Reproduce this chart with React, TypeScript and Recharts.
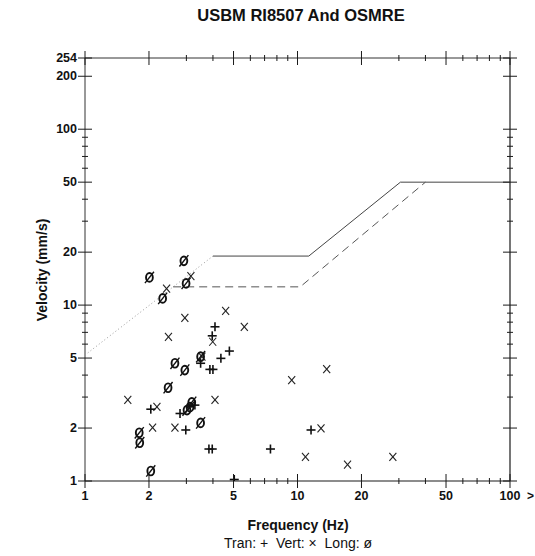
import React from "react";
import {
  ScatterChart,
  Scatter,
  XAxis,
  YAxis,
  ReferenceLine,
} from "recharts";

// ---- data ----
const tranPoints = [
  { f: 4.09, v: 7.53 },
  { f: 3.97, v: 6.69 },
  { f: 4.78, v: 5.48 },
  { f: 4.36, v: 4.98 },
  { f: 3.5, v: 4.67 },
  { f: 3.87, v: 4.31 },
  { f: 4.0, v: 4.31 },
  { f: 3.29, v: 2.7 },
  { f: 2.8, v: 2.42 },
  { f: 2.04, v: 2.56 },
  { f: 2.98, v: 1.95 },
  { f: 3.83, v: 1.52 },
  { f: 3.97, v: 1.52 },
  { f: 7.46, v: 1.52 },
  { f: 11.58, v: 1.95 },
  { f: 5.04, v: 1.02 },
];

const vertPoints = [
  { f: 3.15, v: 14.6 },
  { f: 2.42, v: 12.4 },
  { f: 4.59, v: 9.28 },
  { f: 2.95, v: 8.47 },
  { f: 5.62, v: 7.53 },
  { f: 2.47, v: 6.6 },
  { f: 3.99, v: 6.19 },
  { f: 3.55, v: 5.1 },
  { f: 1.59, v: 2.89 },
  { f: 2.18, v: 2.64 },
  { f: 4.09, v: 2.89 },
  { f: 2.08, v: 2.01 },
  { f: 2.65, v: 2.01 },
  { f: 9.39, v: 3.75 },
  { f: 13.72, v: 4.33 },
  { f: 12.9, v: 1.99 },
  { f: 10.9, v: 1.37 },
  { f: 17.2, v: 1.24 },
  { f: 28.1, v: 1.37 },
];

const longPoints = [
  { f: 2.92, v: 17.85 },
  { f: 2.01, v: 14.37 },
  { f: 2.99, v: 13.29 },
  { f: 2.32, v: 10.92 },
  { f: 3.5, v: 5.09 },
  { f: 2.65, v: 4.67 },
  { f: 2.95, v: 4.27 },
  { f: 2.46, v: 3.39 },
  { f: 3.18, v: 2.8 },
  { f: 3.12, v: 2.63 },
  { f: 3.02, v: 2.53 },
  { f: 3.5, v: 2.14 },
  { f: 1.8, v: 1.88 },
  { f: 1.81, v: 1.65 },
  { f: 2.04, v: 1.14 },
];

const diagonalLine = [
  { f: 1, v: 5.2 },
  { f: 4, v: 19 },
];
const usbmLine = [
  { f: 4, v: 19 },
  { f: 11.3, v: 19 },
  { f: 30.5, v: 50 },
  { f: 100, v: 50 },
];
const osmreLine = [
  { f: 2.6, v: 12.7 },
  { f: 10.3, v: 12.7 },
  { f: 40, v: 50 },
];

const xTicks = [1, 2, 3, 4, 5, 6, 7, 8, 9, 10, 20, 30, 40, 50, 60, 70, 80, 90, 100];
const xMajor = [1, 2, 5, 10, 20, 50, 100];
const yTicks = [1, 2, 3, 4, 5, 6, 7, 8, 9, 10, 20, 30, 40, 50, 60, 70, 80, 90, 100, 200, 254];
const yMajor = [1, 2, 5, 10, 20, 50, 100, 200, 254];

const title = "USBM RI8507 And OSMRE";
const xLabel = "Frequency (Hz)";
const yLabel = "Velocity (mm/s)";
const legendText = "Tran: +  Vert: \u00d7  Long: \u00f8";

// ---- layout ----
const W = 535;
const H = 556;
const PLOT_LEFT = 85;
const PLOT_TOP = 58;
const PLOT_W = 425;
const PLOT_H = 423;
const FONT = "Arial, 'Liberation Sans', Helvetica, sans-serif";
const AX = "#1a1a1a";

const XTick = (props: any) => {
  const { x, y, payload } = props;
  const major = xMajor.includes(payload.value);
  const len = major ? 7 : 3;
  const top = y - PLOT_H;
  return (
    <g>
      <line x1={x} x2={x} y1={y - len} y2={y + len} stroke={AX} strokeWidth={1} />
      <line x1={x} x2={x} y1={top - len} y2={top + len} stroke={AX} strokeWidth={1} />
      {major && (
        <text
          x={x}
          y={y + 19}
          textAnchor="middle"
          fontFamily={FONT}
          fontWeight="bold"
          fontSize={12.5}
          fill="#111"
        >
          {payload.value}
        </text>
      )}
    </g>
  );
};

const YTick = (props: any) => {
  const { x, y, payload } = props;
  const major = yMajor.includes(payload.value);
  const len = major ? 7 : 3;
  const right = x + PLOT_W;
  return (
    <g>
      <line x1={x - len} x2={x + len} y1={y} y2={y} stroke={AX} strokeWidth={1} />
      <line x1={right - len} x2={right + len} y1={y} y2={y} stroke={AX} strokeWidth={1} />
      {major && (
        <text
          x={x - 8}
          y={y + 4}
          textAnchor="end"
          fontFamily={FONT}
          fontWeight="bold"
          fontSize={12.5}
          fill="#111"
        >
          {payload.value}
        </text>
      )}
    </g>
  );
};

const PlusShape = (props: any) => {
  const { cx, cy } = props;
  return (
    <g>
      <line x1={cx - 4.5} x2={cx + 4.5} y1={cy} y2={cy} stroke="#111" strokeWidth={1.6} />
      <line x1={cx} x2={cx} y1={cy - 4.5} y2={cy + 4.5} stroke="#111" strokeWidth={1.6} />
    </g>
  );
};

const CrossShape = (props: any) => {
  const { cx, cy } = props;
  return (
    <g>
      <line x1={cx - 3.5} x2={cx + 3.5} y1={cy - 4} y2={cy + 4} stroke="#222" strokeWidth={1.1} />
      <line x1={cx - 3.5} x2={cx + 3.5} y1={cy + 4} y2={cy - 4} stroke="#222" strokeWidth={1.1} />
    </g>
  );
};

const SlashOShape = (props: any) => {
  const { cx, cy } = props;
  return (
    <g>
      <ellipse cx={cx} cy={cy} rx={3.4} ry={4.4} fill="none" stroke="#111" strokeWidth={1.9} />
      <line x1={cx - 4.5} x2={cx + 4.5} y1={cy + 5.7} y2={cy - 5.7} stroke="#111" strokeWidth={1.4} />
    </g>
  );
};

const NoShape = () => <g />;

export default function App() {
  return (
    <div
      style={{
        position: "absolute",
        left: 0,
        top: 0,
        width: W,
        height: H,
        background: "#fff",
        fontFamily: FONT,
      }}
    >
      <ScatterChart
        width={W}
        height={H}
        margin={{ top: PLOT_TOP, right: W - PLOT_LEFT - PLOT_W, bottom: H - PLOT_TOP - PLOT_H - 30, left: 25 }}
      >
        <XAxis
          dataKey="f"
          type="number"
          scale="log"
          domain={[1, 100]}
          allowDataOverflow
          ticks={xTicks}
          interval={0}
          tick={<XTick />}
          tickSize={0}
          tickMargin={0}
          tickLine={false}
          axisLine={{ stroke: AX, strokeWidth: 1.2 }}
          height={30}
        />
        <YAxis
          dataKey="v"
          type="number"
          scale="log"
          domain={[1, 254]}
          allowDataOverflow
          ticks={yTicks}
          interval={0}
          tick={<YTick />}
          tickSize={0}
          tickMargin={0}
          tickLine={false}
          axisLine={{ stroke: "#333", strokeWidth: 1 }}
          width={60}
        />
        <ReferenceLine y={254} stroke="#333" strokeWidth={1} ifOverflow="visible" />
        <ReferenceLine x={100} stroke={AX} strokeWidth={1.2} ifOverflow="visible" />
        <Scatter
          data={diagonalLine}
          line={{ stroke: "#9a9a9a", strokeWidth: 1, strokeDasharray: "1 2.5" }}
          shape={<NoShape />}
          isAnimationActive={false}
        />
        <Scatter
          data={usbmLine}
          line={{ stroke: "#444", strokeWidth: 1 }}
          shape={<NoShape />}
          isAnimationActive={false}
        />
        <Scatter
          data={osmreLine}
          line={{ stroke: "#555", strokeWidth: 1, strokeDasharray: "8 5" }}
          shape={<NoShape />}
          isAnimationActive={false}
        />
        <Scatter data={vertPoints} shape={<CrossShape />} isAnimationActive={false} />
        <Scatter data={longPoints} shape={<SlashOShape />} isAnimationActive={false} />
        <Scatter data={tranPoints} shape={<PlusShape />} isAnimationActive={false} />
      </ScatterChart>

      <div
        style={{
          position: "absolute",
          left: 0,
          width: 602,
          top: 5,
          textAlign: "center",
          fontWeight: "bold",
          fontSize: 16.5,
          lineHeight: "20px",
          color: "#111",
        }}
      >
        {title}
      </div>
      <div
        style={{
          position: "absolute",
          left: 42 - 80,
          top: 270 - 9,
          width: 160,
          textAlign: "center",
          fontWeight: "bold",
          fontSize: 14,
          lineHeight: "18px",
          color: "#111",
          transform: "rotate(-90deg)",
        }}
      >
        {yLabel}
      </div>
      <div
        style={{
          position: "absolute",
          left: 0,
          width: 596,
          top: 516,
          textAlign: "center",
          fontWeight: "bold",
          fontSize: 14,
          lineHeight: "18px",
          color: "#111",
        }}
      >
        {xLabel}
      </div>
      <div
        style={{
          position: "absolute",
          left: 0,
          width: 596,
          top: 534,
          textAlign: "center",
          fontSize: 14,
          lineHeight: "18px",
          color: "#111",
          whiteSpace: "pre",
        }}
      >
        {legendText}
      </div>
      <div
        style={{
          position: "absolute",
          left: 527,
          top: 489,
          fontWeight: "bold",
          fontSize: 12,
          color: "#111",
        }}
      >
        {">"}
      </div>
    </div>
  );
}
